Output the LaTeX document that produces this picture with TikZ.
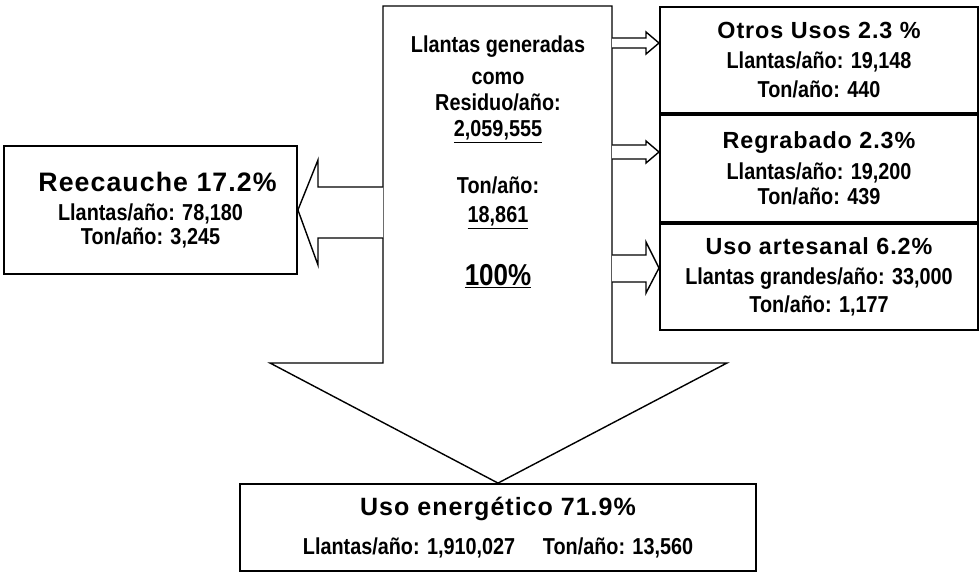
\documentclass[tikz,border=0pt]{standalone}
\usepackage{fontspec}
\usepackage{tikz}
\setmainfont{Liberation Sans}
\newfontfamily\spacedfont[LetterSpace=4]{Liberation Sans}
\newfontfamily\narrowfont[FakeStretch=0.86]{Liberation Sans}

\tikzset{
  caja/.style={draw, line width=1.3pt, inner sep=0pt, align=center,
    font=\narrowfont\bfseries\fontsize{16.4}{20}\selectfont},
  flecha/.style={draw, line width=1pt, fill=white, line join=miter}
}

\begin{document}
\begin{tikzpicture}[x=0.25mm, y=-0.25mm]
\useasboundingbox (0,0) rectangle (980,573);
% cajas de destino
\node[caja, minimum width=79.5mm, minimum height=26.5mm] (otros) at (819,60)
  {{\spacedfont\fontsize{16.6}{20}\selectfont Otros Usos 2.3 \%}\\[1.5pt]
   Llantas/año: 19,148\\ Ton/año: 440};
\node[caja, minimum width=79.5mm, minimum height=26.75mm] (regrabado) at (819,168.5)
  {{\spacedfont\fontsize{16.6}{20}\selectfont Regrabado 2.3\%}\\[2pt]
   Llantas/año: 19,200\\[-2.5pt] Ton/año: 439};
\node[caja, minimum width=79.5mm, minimum height=26.5mm] (artesanal) at (819,277)
  {{\spacedfont\fontsize{16.6}{20}\selectfont Uso artesanal 6.2\%}\\[1pt]
   Llantas grandes/año: 33,000\\ Ton/año: 1,177};
\node[caja, minimum width=73.25mm, minimum height=32mm] (reecauche) at (150.5,210)
  {{\spacedfont\fontsize{19}{20}\selectfont\hspace*{10pt}Reecauche 17.2\%}\\[1pt]
   Llantas/año: 78,180\\[-3pt] Ton/año: 3,245};
\node[caja, minimum width=129mm, minimum height=21.75mm] (energia) at (498,527.5)
  {{\spacedfont\fontsize{17.8}{20}\selectfont Uso energético 71.9\%}\\[8pt]
   Llantas/año: 1,910,027\hspace{1.2em}Ton/año: 13,560};

% flecha principal
\coordinate (ta) at (383,6);
\coordinate (tb) at (612,6);
\draw[flecha] (ta) -- (tb) -- (612,363) -- (727,363) -- (energia.north)
  -- (270,363) -- (383,363) -- cycle;
\node[inner sep=0pt, anchor=north, align=center,
  font=\narrowfont\bfseries\fontsize{16.4}{18.5}\selectfont] (total) at (498,36)
  {Llantas generadas\\[4pt] como\\ Residuo/año:\\ \underline{2,059,555}\\[22pt]
   Ton/año:\\[2pt] \underline{18,861}\\[24pt]
   {\fontsize{21.5}{20}\selectfont\underline{100\%}}};

% flechas laterales
\coordinate (pr) at (reecauche.east);
\draw[flecha] (383,187) -- (318,187) -- (318,160) -- (pr) -- (318,265)
  -- (318,238) -- (383,238);
\coordinate (po) at (659,43);
\draw[flecha] (612,38) -- (646,38) -- (646,32) -- (po) -- (646,54)
  -- (646,48) -- (612,48);
\coordinate (pg) at (659,152);
\draw[flecha] (612,145) -- (646,145) -- (646,141) -- (pg) -- (646,163)
  -- (646,159) -- (612,159);
\coordinate (pa) at (659,268);
\draw[flecha] (612,255) -- (646,255) -- (646,242) -- (pa) -- (646,293)
  -- (646,282) -- (612,282);
\end{tikzpicture}
\end{document}
